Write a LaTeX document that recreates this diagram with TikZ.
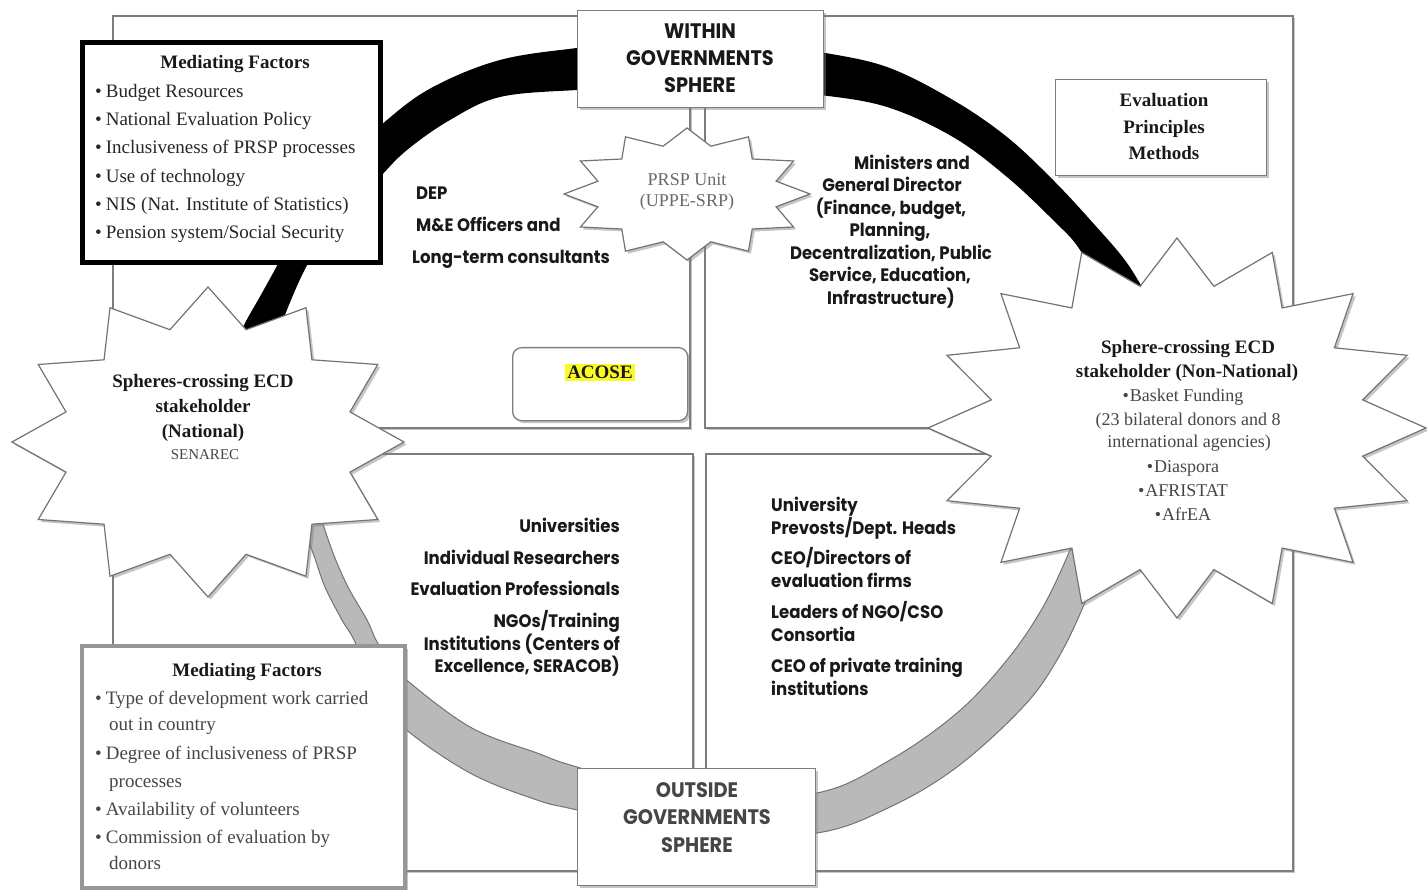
\documentclass[tikz,border=0pt]{standalone}
\usepackage{fontspec}
\setmainfont{Liberation Serif}
\newfontfamily\gothic[FakeStretch=0.92]{Poppins}
\usetikzlibrary{shadows}
\definecolor{boxgray}{RGB}{125,125,125}
\definecolor{txtgray}{RGB}{70,70,70}
\definecolor{lightgraytxt}{RGB}{105,105,105}
\definecolor{bandgray}{RGB}{185,185,185}
\definecolor{hl}{RGB}{250,250,40}
\definecolor{mf2border}{RGB}{150,150,150}
\tikzset{
  shd/.style={drop shadow={shadow xshift=2.5pt,shadow yshift=-2.5pt,fill=black!50,opacity=.45}},
  quad/.style={draw=boxgray,line width=1.6pt,fill=white,shd,inner sep=0pt},
  sbox/.style={draw=boxgray,line width=1.3pt,fill=white,shd,inner sep=0pt},
  starsty/.style={draw=black!55,line width=1.2pt,fill=white,shd},
  gt/.style={font=\gothic\bfseries\fontsize{18}{21}\selectfont,inner sep=0pt,text=black!90},
  gtbig/.style={font=\gothic\bfseries\fontsize{21}{25}\selectfont,inner sep=0pt,text=black!90},
  sr/.style={font=\fontsize{19}{23}\selectfont,inner sep=0pt,text=black!85},
  srb/.style={font=\bfseries\fontsize{19}{23}\selectfont,inner sep=0pt,text=black!90},
  srs/.style={font=\fontsize{18}{22}\selectfont,inner sep=0pt,text=black!80},
}
% cx, cy, rx, ry, 2n, ratio
\newcommand\drawstar[6]{%
  \path[starsty] ({#1+#3},#2) \foreach \k in {1,...,#5} { -- ({#1+(1-(1-#6)*mod(\k,2))*#3*cos(\k*360/#5)},{#2-(1-(1-#6)*mod(\k,2))*#4*sin(\k*360/#5)}) } -- cycle;}
\begin{document}
\begin{tikzpicture}[x=1pt,y=-1pt]
\useasboundingbox (0,0) rectangle (1427,890);
\fill[white] (0,0) rectangle (1427,890);

% quadrants
\node[quad,anchor=north west,minimum width=577pt,minimum height=412pt] (qtl) at (112,15) {};
\node[quad,anchor=north west,minimum width=588pt,minimum height=412pt] (qtr) at (704,15) {};
\node[quad,anchor=north west,minimum width=580pt,minimum height=417pt] (qbl) at (112,453) {};
\node[quad,anchor=north west,minimum width=587pt,minimum height=417pt] (qbr) at (705,453) {};

% black band (within governments)
\fill[black] plot[smooth,tension=0.6] coordinates {(232,355) (243,327) (262,293) (280,260) (305,210) (340,165) (387,120) (433,87) (500,60) (577,48) (640,42)}
  -- plot[smooth,tension=0.6] coordinates {(640,88) (577,90) (500,97) (450,120) (407,150) (380,177) (345,215) (310,260) (283,320) (275,350)} -- cycle;
\fill[black] plot[smooth,tension=0.6] coordinates {(770,45) (820,52) (887,67) (953,100) (1007,137) (1053,180) (1093,223) (1127,263) (1152,305)}
  -- plot[smooth,tension=0.6] coordinates {(1105,300) (1080,250) (1053,220) (1007,177) (953,137) (887,107) (820,95) (770,92)} -- cycle;

% gray band (outside governments)
\filldraw[fill=bandgray,draw=black!55,line width=1pt] plot[smooth,tension=0.6] coordinates {(300,520) (313,553) (325,587) (342,620) (355,642) (375,690) (403,727) (470,773) (537,800) (577,810) (697,838) (817,833) (890,807) (957,767) (1023,707) (1057,660) (1083,607) (1100,560)}
  -- plot[smooth,tension=0.6] coordinates {(1080,520) (1070,550) (1043,607) (1007,660) (957,713) (890,760) (817,793) (697,800) (577,767) (537,753) (470,727) (403,677) (390,660) (377,642) (367,620) (348,587) (333,553) (320,515)} -- cycle;

% boxes
\node[draw=black,line width=5pt,fill=white,shd,anchor=north west,minimum width=298pt,minimum height=220pt,inner sep=0pt] (mf1) at (80,40) {};
\node[draw=mf2border,line width=4pt,fill=white,shd,anchor=north west,minimum width=323pt,minimum height=242pt,inner sep=0pt] (mf2) at (80,644) {};
\node[sbox,anchor=north west,minimum width=246pt,minimum height=97pt] (within) at (577,10) {};
\node[sbox,anchor=north west,minimum width=238pt,minimum height=117pt] (outside) at (577,768) {};
\node[sbox,anchor=north west,minimum width=211pt,minimum height=96pt] (evalbox) at (1055,79) {};
\node[sbox,rounded corners=9pt,anchor=north west,minimum width=175pt,minimum height=73pt] (acose) at (512,347) {};

% stars
\drawstar{208}{442}{196}{155}{24}{0.75}
\drawstar{1177}{428}{249}{190}{32}{0.76}
\drawstar{687}{194}{123}{66}{24}{0.75}

% texts: within / outside
\node[gtbig,anchor=base] (w1) at (700,39) {WITHIN};
\node[gtbig,anchor=base] (w2) at (700,66) {GOVERNMENTS};
\node[gtbig,anchor=base] (w3) at (700,93) {SPHERE};
\node[gtbig,anchor=base,text=txtgray] (o1) at (697,797) {OUTSIDE};
\node[gtbig,anchor=base,text=txtgray] (o2) at (697,824) {GOVERNMENTS};
\node[gtbig,anchor=base,text=txtgray] (o3) at (697,852) {SPHERE};

% evaluation box
\node[srb,anchor=base] (e1) at (1164,107) {Evaluation};
\node[srb,anchor=base] (e2) at (1164,134) {Principles};
\node[srb,anchor=base] (e3) at (1164,160) {Methods};

% mediating factors (top)
\node[srb,anchor=base] (mf1t) at (235,69) {Mediating Factors};
\node[sr,anchor=base west] (mf1a) at (95,98) {\textbullet\hspace{4pt}Budget Resources};
\node[sr,anchor=base west] (mf1b) at (95,126) {\textbullet\hspace{4pt}National Evaluation Policy};
\node[sr,anchor=base west] (mf1c) at (95,154) {\textbullet\hspace{4pt}Inclusiveness of PRSP processes};
\node[sr,anchor=base west] (mf1d) at (95,183) {\textbullet\hspace{4pt}Use of technology};
\node[sr,anchor=base west] (mf1e) at (95,211) {\textbullet\hspace{4pt}NIS (Nat. Institute of Statistics)};
\node[sr,anchor=base west] (mf1f) at (95,239) {\textbullet\hspace{4pt}Pension system/Social Security};

% mediating factors (bottom)
\node[srb,anchor=base] (mf2t) at (247,676) {Mediating Factors};
\node[sr,anchor=base west,text=txtgray] (mf2a) at (95,704) {\textbullet\hspace{4pt}Type of development work carried};
\node[sr,anchor=base west,text=txtgray] (mf2a2) at (109,730) {out in country};
\node[sr,anchor=base west,text=txtgray] (mf2b) at (95,759) {\textbullet\hspace{4pt}Degree of inclusiveness of PRSP};
\node[sr,anchor=base west,text=txtgray] (mf2b2) at (109,787) {processes};
\node[sr,anchor=base west,text=txtgray] (mf2c) at (95,815) {\textbullet\hspace{4pt}Availability of volunteers};
\node[sr,anchor=base west,text=txtgray] (mf2d) at (95,843) {\textbullet\hspace{4pt}Commission of evaluation by};
\node[sr,anchor=base west,text=txtgray] (mf2d2) at (109,869) {donors};

% DEP
\node[gt,anchor=base west] (dep1) at (416,200) {DEP};
\node[gt,anchor=base west] (dep2) at (416,232) {M\&E Officers and};
\node[gt,anchor=base west] (dep3) at (412,264) {Long-term consultants};

% PRSP unit
\node[srs,anchor=base,text=lightgraytxt] (prsp1) at (687,186) {PRSP Unit};
\node[srs,anchor=base,text=lightgraytxt] (prsp2) at (687,207) {(UPPE-SRP)};

% ministers
\node[gt,anchor=base] (m1) at (912,170) {Ministers and};
\node[gt,anchor=base] (m2) at (892,192) {General Director};
\node[gt,anchor=base] (m3) at (891,215) {(Finance, budget,};
\node[gt,anchor=base] (m4) at (890,237) {Planning,};
\node[gt,anchor=base] (m5) at (891,260) {Decentralization, Public};
\node[gt,anchor=base] (m6) at (890,282) {Service, Education,};
\node[gt,anchor=base] (m7) at (891,305) {Infrastructure)};

% ACOSE
\node[srb,fill=hl,inner sep=2pt,anchor=base] (acosetx) at (600,379) {ACOSE};

% national star text
\node[srb,anchor=base] (n1) at (203,388) {Spheres-crossing ECD};
\node[srb,anchor=base] (n2) at (203,413) {stakeholder};
\node[srb,anchor=base] (n3) at (203,438) {(National)};
\node[font=\fontsize{15}{18}\selectfont,inner sep=0pt,text=txtgray,anchor=base] (n4) at (205,459) {SENAREC};

% non-national star text
\node[srb,anchor=base] (nn1) at (1188,354) {Sphere-crossing ECD};
\node[srb,anchor=base] (nn2) at (1187,378) {stakeholder (Non-National)};
\node[srs,anchor=base,text=txtgray] (nn3) at (1183,402) {\textbullet\hspace{1pt}Basket Funding};
\node[srs,anchor=base,text=txtgray] (nn4) at (1188,425) {(23 bilateral donors and 8};
\node[srs,anchor=base,text=txtgray] (nn5) at (1189,447) {international agencies)};
\node[srs,anchor=base,text=txtgray] (nn6) at (1183,472) {\textbullet\hspace{1pt}Diaspora};
\node[srs,anchor=base,text=txtgray] (nn7) at (1183,496) {\textbullet\hspace{1pt}AFRISTAT};
\node[srs,anchor=base,text=txtgray] (nn8) at (1183,520) {\textbullet\hspace{1pt}AfrEA};

% universities (bottom left)
\node[gt,anchor=base east] (u1) at (620,532) {Universities};
\node[gt,anchor=base east] (u2) at (620,564) {Individual Researchers};
\node[gt,anchor=base east] (u3) at (620,595) {Evaluation Professionals};
\node[gt,anchor=base east] (u4) at (620,627) {NGOs/Training};
\node[gt,anchor=base east] (u5) at (620,650) {Institutions (Centers of};
\node[gt,anchor=base east] (u6) at (620,672) {Excellence, SERACOB)};

% prevosts (bottom right)
\node[gt,anchor=base west] (p1) at (771,511) {University};
\node[gt,anchor=base west] (p2) at (771,534) {Prevosts/Dept. Heads};
\node[gt,anchor=base west] (p3) at (771,564) {CEO/Directors of};
\node[gt,anchor=base west] (p4) at (771,587) {evaluation firms};
\node[gt,anchor=base west] (p5) at (771,618) {Leaders of NGO/CSO};
\node[gt,anchor=base west] (p6) at (771,641) {Consortia};
\node[gt,anchor=base west] (p7) at (771,672) {CEO of private training};
\node[gt,anchor=base west] (p8) at (771,695) {institutions};
\end{tikzpicture}
\end{document}
